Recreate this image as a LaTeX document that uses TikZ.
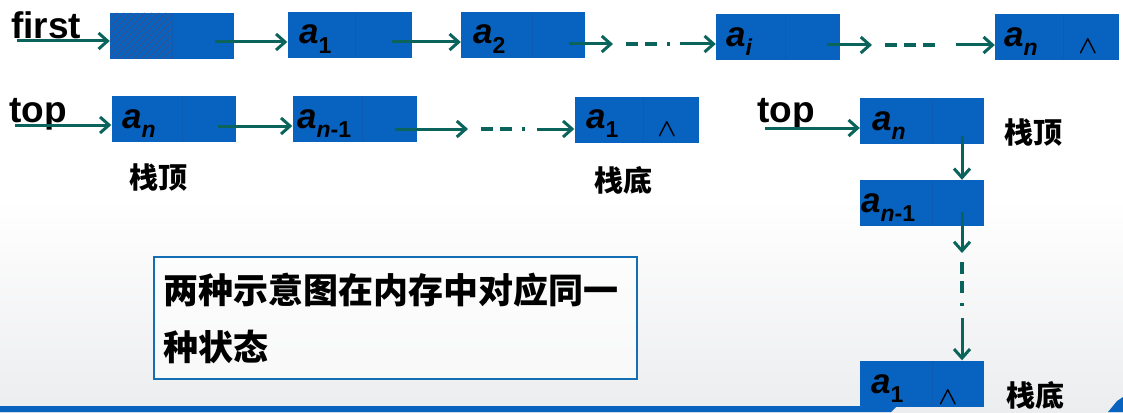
\documentclass[tikz,border=0pt]{standalone}
\usepackage{fontspec}
\setmainfont{Liberation Sans}
\newfontfamily\cjk{Noto Sans CJK SC}
\usetikzlibrary{arrows.meta,calc}
\definecolor{boxblue}{RGB}{8,98,192}
\definecolor{divblue}{RGB}{12,92,180}
\definecolor{arrcol}{RGB}{10,100,92}
\definecolor{hatchcol}{RGB}{60,80,135}
\definecolor{frameblue}{RGB}{20,110,180}
\definecolor{bggray}{RGB}{236,237,239}
\tikzset{
  cell/.style={rectangle, fill=boxblue, minimum width=124, minimum height=46, inner sep=0pt},
  lab/.style={anchor=base west, inner sep=0pt, font=\fontsize{35}{36}\selectfont\bfseries\itshape},
  nul/.style={inner sep=0pt, font=\fontsize{26}{26}\selectfont\boldmath},
  word/.style={inner sep=0pt, font=\fontsize{37}{38}\selectfont\bfseries},
  cn/.style={inner sep=0pt, font=\fontsize{29}{30}\selectfont\cjk\bfseries},
  arr/.style={draw=arrcol, line width=3pt, -{Straight Barb[length=9pt,width=16pt,line width=3pt]}},
  dashdot/.style={draw=arrcol, line width=3.5pt, dash pattern=on 12pt off 7pt on 12pt off 10pt on 3pt off 20pt},
  dash3/.style={draw=arrcol, line width=3.5pt, dash pattern=on 12pt off 7pt},
  divider/.style={draw=divblue, line width=0.8pt}
}
\newcommand{\sub}[1]{\raisebox{-0.28em}{\fontsize{23}{23}\selectfont\upshape #1}}
\begin{document}
\begin{tikzpicture}[x=1pt,y=-1pt]
\useasboundingbox (0,0) rectangle (1123,412);
% background
\fill[white] (0,0) rectangle (1123,412);
\shade[top color=white, bottom color=bggray] (0,200) rectangle (1123,412);
\fill[boxblue] (0,406) -- (897,406) -- (891,412) -- (0,412) -- cycle;
\fill[boxblue] (1117,401) -- (1123,397) -- (1123,412) -- (1108,412) -- cycle;

% ---------- row 1 ----------
\node[word, anchor=base west] (first) at (11,39) {first};
\node[cell] (b0) at (172,36) {};
\begin{scope}
  \clip (110,13) rectangle (172,59);
  \foreach \k in {0,...,16} {
    \draw[hatchcol, line width=0.9pt] ({110+7*\k},13) -- ({64+7*\k},59);
  }
\end{scope}
\draw[divider] (172,13) -- (172,59);
\coordinate (f0) at (17,41);
\draw[arr] (f0) -- (f0 -| b0.west);

\node[cell] (r1a) at (349.5,35) {};
\draw[divider] (355,12) -- (355,58);
\node[lab] (r1al) at (299,44) {a\sub{1}};

\node[cell] (r1b) at (523,35) {};
\draw[divider] (532,12) -- (532,58);
\node[lab] (r1bl) at (473,44) {a\sub{2}};

\node[cell] (r1i) at (778,37) {};
\draw[divider] (785,14) -- (785,60);
\node[lab] (r1il) at (726,46) {a\sub{\itshape i}};

\node[cell] (r1n) at (1057,37) {};
\draw[divider] (1063,14) -- (1063,60);
\node[lab] (r1nl) at (1004,46) {a\sub{\itshape n}};
\node[nul] (r1nul) at (1088,47) {$\wedge$};

\coordinate (p1) at (215,42);
\draw[arr] (p1) -- (p1 -| r1a.west);
\coordinate (p2) at (392,42);
\draw[arr] (p2) -- (p2 -| r1b.west);
\coordinate (p3) at (569,44);
\coordinate (p3b) at (613,44);
\coordinate (p3c) at (626,44);
\coordinate (p3d) at (680,44);
\draw[arr] (p3) -- (p3b);
\draw[dashdot] (p3c) -- (671,44);
\draw[arr] (p3d) -- (p3d -| r1i.west);
\coordinate (p4) at (827,45);
\coordinate (p4b) at (872,45);
\coordinate (p4c) at (885,45);
\coordinate (p4e) at (941,45);
\coordinate (p4d) at (956,45);
\draw[arr] (p4) -- (p4b);
\draw[dash3] (p4c) -- (p4e);
\draw[arr] (p4d) -- (p4d -| r1n.west);

% ---------- row 2 ----------
\node[word, anchor=base west] (top1) at (9,122) {top};
\node[cell] (r2n) at (173.5,119) {};
\draw[divider] (182,96) -- (182,142);
\node[lab] (r2nl) at (122,128) {a\sub{\itshape n}};
\coordinate (q0) at (15,125);
\draw[arr] (q0) -- (q0 -| r2n.west);

\node[cell] (r2m) at (354.5,119) {};
\draw[divider] (362,96) -- (362,142);
\node[lab] (r2ml) at (297,128) {a\sub{{\itshape n}-1}};

\node[cell] (r2a) at (636.5,119.5) {};
\draw[divider] (643,97) -- (643,142);
\node[lab] (r2al) at (586,128) {a\sub{1}};
\node[nul] (r2nul) at (667,130) {$\wedge$};

\coordinate (q1) at (218,126);
\draw[arr] (q1) -- (q1 -| r2m.west);
\coordinate (q2) at (395,129);
\coordinate (q2b) at (468,129);
\coordinate (q2c) at (481,129);
\coordinate (q2d) at (537,129);
\draw[arr] (q2) -- (q2b);
\draw[dashdot] (q2c) -- (527,129);
\draw[arr] (q2d) -- (q2d -| r2a.west);

\node[cn] (top2) at (158,178) {栈顶};
\node[cn] (bot2) at (623,180) {栈底};

% ---------- vertical ----------
\node[word, anchor=base west] (top3) at (757,122) {top};
\node[cell] (v1) at (922,120.5) {};
\draw[divider] (932,98) -- (932,143);
\node[lab] (v1l) at (872,130) {a\sub{\itshape n}};
\coordinate (s0) at (765,128);
\draw[arr] (s0) -- (s0 -| v1.west);
\node[cn] (top4) at (1033,133) {栈顶};

\node[cell] (v2) at (921.5,203) {};
\draw[divider] (932,180) -- (932,226);
\node[lab] (v2l) at (861,212) {a\sub{{\itshape n}-1}};

\node[cell] (v3) at (921.5,383.5) {};
\draw[divider] (932,361) -- (932,406);
\node[lab] (v3l) at (871,393) {a\sub{1}};
\node[nul] (v3nul) at (948,398) {$\wedge$};
\node[cn] (bot4) at (1035,395) {栈底};

\coordinate (t1) at (962,136);
\draw[arr] (t1) -- (t1 |- v2.north);
\coordinate (t2) at (962,212);
\coordinate (t2b) at (962,253);
\coordinate (t2c) at (962,262);
\coordinate (t2d) at (962,318);
\draw[arr] (t2) -- (t2b);
\draw[dashdot] (t2c) -- (962,309);
\draw[arr] (t2d) -- (t2d |- v3.north);

% ---------- note ----------
\node[draw=frameblue, line width=2.5pt, fill=white, fill opacity=0.6, text opacity=1,
      minimum width=483, minimum height=122, inner xsep=8pt, inner ysep=0pt,
      text width=465, align=left, font=\fontsize{35}{57}\selectfont\cjk\bfseries]
  (note) at (395.5,318) {两种示意图在内存中对应同一\\种状态};
\end{tikzpicture}
\end{document}
